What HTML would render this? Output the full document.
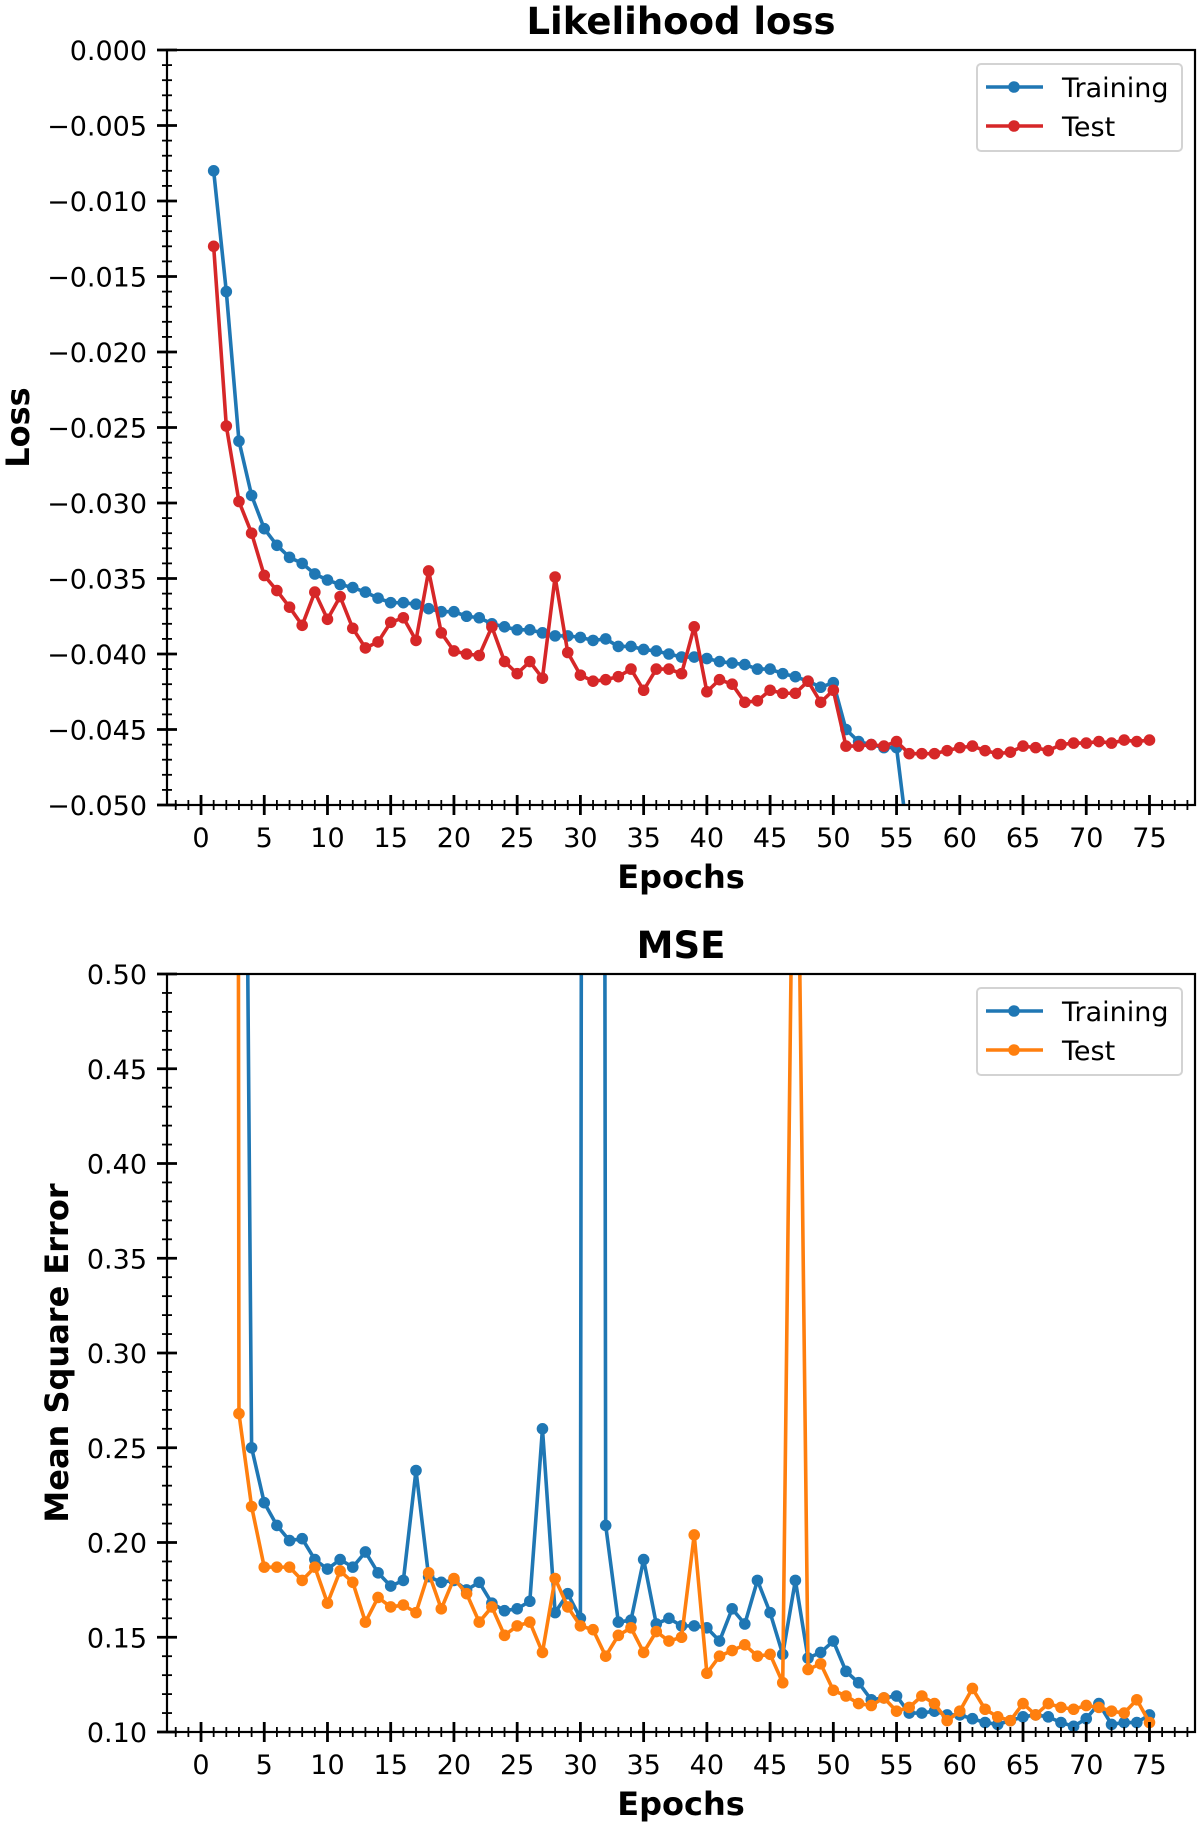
<!DOCTYPE html>
<html><head><meta charset="utf-8"><style>
html,body{margin:0;padding:0;background:#fff;}
svg{display:block;font-family:"DejaVu Sans","Liberation Sans",sans-serif;}
</style></head><body>
<svg id="fig" width="1200" height="1823" viewBox="0 0 1200 1823" xmlns="http://www.w3.org/2000/svg"></svg>
<script>
// ---- data ----
const epochs = Array.from({length:75},(_,i)=>i+1);
const likeTrain = [-0.008,-0.016,-0.0259,-0.0295,-0.0317,-0.0328,-0.0336,-0.034,-0.0347,-0.0351,-0.0354,-0.0356,-0.0359,-0.0363,-0.0366,-0.0366,-0.0367,-0.037,-0.0372,-0.0372,-0.0375,-0.0376,-0.038,-0.0382,-0.0384,-0.0384,-0.0386,-0.0388,-0.0388,-0.0389,-0.0391,-0.039,-0.0395,-0.0395,-0.0397,-0.0398,-0.04,-0.0402,-0.0402,-0.0403,-0.0405,-0.0406,-0.0407,-0.041,-0.041,-0.0413,-0.0415,-0.0418,-0.0422,-0.0419,-0.045,-0.0458,-0.046,-0.0462,-0.0462,-0.053,-0.056,-0.058,-0.059,-0.06,-0.061,-0.062,-0.063,-0.064,-0.065,-0.066,-0.067,-0.068,-0.069,-0.07,-0.071,-0.072,-0.073,-0.074,-0.075];
const likeTest = [-0.013,-0.0249,-0.0299,-0.032,-0.0348,-0.0358,-0.0369,-0.0381,-0.0359,-0.0377,-0.0362,-0.0383,-0.0396,-0.0392,-0.0379,-0.0376,-0.0391,-0.0345,-0.0386,-0.0398,-0.04,-0.0401,-0.0382,-0.0405,-0.0413,-0.0405,-0.0416,-0.0349,-0.0399,-0.0414,-0.0418,-0.0417,-0.0415,-0.041,-0.0424,-0.041,-0.041,-0.0413,-0.0382,-0.0425,-0.0417,-0.042,-0.0432,-0.0431,-0.0424,-0.0426,-0.0426,-0.0418,-0.0432,-0.0424,-0.0461,-0.0461,-0.046,-0.0461,-0.0458,-0.0466,-0.0466,-0.0466,-0.0464,-0.0462,-0.0461,-0.0464,-0.0466,-0.0465,-0.0461,-0.0462,-0.0464,-0.046,-0.0459,-0.0459,-0.0458,-0.0459,-0.0457,-0.0458,-0.0457];
const mseTrain = [3.5,3.2,1.08,0.250,0.221,0.209,0.201,0.202,0.191,0.186,0.191,0.187,0.195,0.184,0.177,0.180,0.238,0.182,0.179,0.180,0.175,0.179,0.168,0.164,0.165,0.169,0.260,0.163,0.173,0.160,5.0,0.209,0.158,0.159,0.191,0.157,0.160,0.156,0.156,0.155,0.148,0.165,0.157,0.180,0.163,0.141,0.180,0.139,0.142,0.148,0.132,0.126,0.117,0.118,0.119,0.110,0.110,0.111,0.109,0.109,0.107,0.105,0.104,0.106,0.108,0.109,0.108,0.105,0.103,0.107,0.115,0.104,0.105,0.105,0.109];
const mseTest = [3.0,6.0,0.268,0.219,0.187,0.187,0.187,0.180,0.187,0.168,0.185,0.179,0.158,0.171,0.166,0.167,0.163,0.184,0.165,0.181,0.173,0.158,0.166,0.151,0.156,0.158,0.142,0.181,0.166,0.156,0.154,0.140,0.151,0.155,0.142,0.153,0.148,0.150,0.204,0.131,0.140,0.143,0.146,0.140,0.141,0.126,0.70,0.133,0.136,0.122,0.119,0.115,0.114,0.118,0.111,0.113,0.119,0.115,0.106,0.111,0.123,0.112,0.108,0.106,0.115,0.109,0.115,0.113,0.112,0.114,0.113,0.111,0.110,0.117,0.105];
const xTicks = [0,5,10,15,20,25,30,35,40,45,50,55,60,65,70,75];
const likeTicks = [0,-0.005,-0.01,-0.015,-0.02,-0.025,-0.03,-0.035,-0.04,-0.045,-0.05];
const likeTickLabels = ["0.000","\u22120.005","\u22120.010","\u22120.015","\u22120.020","\u22120.025","\u22120.030","\u22120.035","\u22120.040","\u22120.045","\u22120.050"];
const mseTicks = [0.10,0.15,0.20,0.25,0.30,0.35,0.40,0.45,0.50];
const mseTickLabels = ["0.10","0.15","0.20","0.25","0.30","0.35","0.40","0.45","0.50"];

const NS="http://www.w3.org/2000/svg";
const svg=document.getElementById('fig');
function mk(tag,attrs,parent){const e=document.createElementNS(NS,tag);for(const k in attrs)e.setAttribute(k,attrs[k]);(parent||svg).appendChild(e);return e;}

function chart(cfg){
  const L=167,R=1195,T=cfg.top,B=cfg.bottom;
  const xmin=-2.69,xmax=78.6;
  const sx=v=>L+(v-xmin)/(xmax-xmin)*(R-L);
  const sy=v=>B-(v-cfg.ymin)/(cfg.ymax-cfg.ymin)*(B-T);
  const g=mk('g',{});
  
  
  const cid='clip-'+cfg.name;
  const cp=mk('clipPath',{id:cid},g);mk('rect',{x:L,y:T,width:R-L,height:B-T},cp);
  cfg.series.forEach(s=>{
    const sg=mk('g',{'clip-path':'url(#'+cid+')'},g);
    
    
    const pts=epochs.map((e,i)=>sx(e).toFixed(2)+','+sy(s.vals[i]).toFixed(2)).join(' ');
    const pl=mk('polyline',{points:pts,fill:'none',stroke:s.color,'stroke-width':3.6,'stroke-linejoin':'round'},sg);
    
    
    epochs.forEach((e,i)=>{
      const c=mk('circle',{cx:sx(e),cy:sy(s.vals[i]),r:5.8,fill:s.color},sg);
      
      
    });
  });
  const fr=mk('rect',{x:L,y:T,width:R-L,height:B-T,fill:'none',stroke:'#000','stroke-width':2.2},g);
  
  
  for(let e=-2;e<=78;e++){
    const x=sx(e);const maj=xTicks.includes(e);
    mk('line',{x1:x,x2:x,y1:B-(maj?10:5),y2:B+(maj?10:5),stroke:'#000','stroke-width':maj?2.8:1.8},g);
  }
  xTicks.forEach(e=>{
    const t=mk('text',{x:sx(e),y:B+42,'text-anchor':'middle','font-size':27,fill:'#000'},g);
    t.textContent=String(e);
    
    
  });
  const nMinor=Math.round((cfg.ymax-cfg.ymin)/cfg.minor);
  for(let i=0;i<=nMinor;i++){
    const v=cfg.ymin+i*cfg.minor;const y=sy(v);
    const maj=Math.abs(Math.round(i*cfg.minor/cfg.major*1e6)/1e6 % 1)<1e-6;
    mk('line',{x1:L-(maj?10:5),x2:L+(maj?10:5),y1:y,y2:y,stroke:'#000','stroke-width':maj?2.8:1.8},g);
  }
  cfg.ticks.forEach((v,i)=>{
    const t=mk('text',{x:147,y:sy(v)+10,'text-anchor':'end','font-size':27,fill:'#000'},g);
    t.textContent=cfg.tickLabels[i];
    
    
  });
  const ti=mk('text',{x:(L+R)/2,y:T-16,'text-anchor':'middle','font-size':37,'font-weight':'bold'},g);
  ti.textContent=cfg.title;
  
  
  const xl=mk('text',{x:(L+R)/2,y:B+83,'text-anchor':'middle','font-size':32,'font-weight':'bold'},g);
  xl.textContent='Epochs';
  
  
  const yl=mk('text',{x:0,y:0,'text-anchor':'middle','font-size':32,'font-weight':'bold',transform:'translate('+cfg.ylx+','+((T+B)/2)+') rotate(-90)'},g);
  yl.textContent=cfg.ylabel;
  
  
  const lg=mk('g',{},g);
  
  
  const ly=T+14;
  mk('rect',{x:977,y:ly,width:205,height:87,rx:4,fill:'#fff','fill-opacity':0.85,stroke:'#d3d3d3','stroke-width':2},lg);
  cfg.series.forEach((s,i)=>{
    const y=ly+23+i*39;
    const en=mk('g',{},lg);
    
    
    mk('line',{x1:986,x2:1043,y1:y,y2:y,stroke:s.color,'stroke-width':3.6},en);
    mk('circle',{cx:1014,cy:y,r:5.8,fill:s.color},en);
    const t=mk('text',{x:1062,y:y+10,'font-size':27},en);
    t.textContent=s.label;
  });
}
chart({name:'likelihood-chart',top:50,bottom:805,ymin:-0.05,ymax:0,minor:0.001,major:0.005,ticks:likeTicks,tickLabels:likeTickLabels,title:'Likelihood loss',ylabel:'Loss',ylx:29,
  series:[{name:'likelihood-training',label:'Training',color:'#1f77b4',vals:likeTrain},{name:'likelihood-test',label:'Test',color:'#d62728',vals:likeTest}]});
chart({name:'mse-chart',top:974,bottom:1732,ymin:0.1,ymax:0.5,minor:0.01,major:0.05,ticks:mseTicks,tickLabels:mseTickLabels,title:'MSE',ylabel:'Mean Square Error',ylx:68,
  series:[{name:'mse-training',label:'Training',color:'#1f77b4',vals:mseTrain},{name:'mse-test',label:'Test',color:'#ff7f0e',vals:mseTest}]});
</script>
</body></html>
